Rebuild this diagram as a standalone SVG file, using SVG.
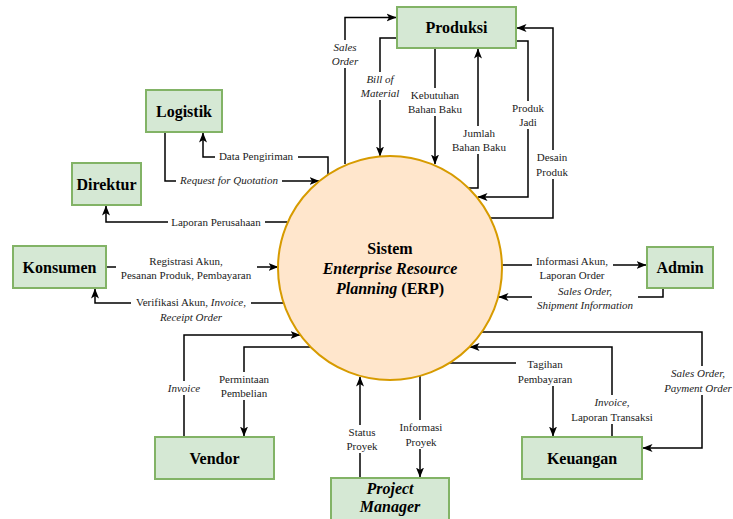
<svg xmlns="http://www.w3.org/2000/svg" width="733" height="519" viewBox="0 0 733 519">
<style>
.node{fill:#d5e8d4;stroke:#82b366;stroke-width:2}
.nt{font-family:"Liberation Serif","Times New Roman",serif;font-size:16px;font-weight:bold;text-anchor:middle;fill:#000}
.ct{font-family:"Liberation Serif","Times New Roman",serif;font-size:16px;font-weight:bold;text-anchor:middle;fill:#000}
.e{fill:none;stroke:#000;stroke-width:1.5}
.ea{fill:none;stroke:#000;stroke-width:1.5;marker-end:url(#arr)}
.lb{fill:#fff;stroke:none}
.lt{font-family:"Liberation Serif","Times New Roman",serif;font-size:11px;text-anchor:middle;fill:#222}
.it{font-style:italic}
</style>
<defs>
<marker id="arr" markerUnits="userSpaceOnUse" markerWidth="10" markerHeight="10" viewBox="0 0 10 10" refX="9.5" refY="5" orient="auto">
<path d="M0,1 L10,5 L0,9 L2.5,5 z" fill="#000"/>
</marker>
</defs>

<g id="connectors">
<path class="ea" d="M345,164 V17.5 H396"/>
<path class="ea" d="M397,38 H380 V156"/>
<path class="ea" d="M435,48 V164"/>
<path class="ea" d="M469,188 H478 V49"/>
<path class="ea" d="M516,41 H528 V197 H478"/>
<path class="ea" d="M490,218 H553 V28 H517"/>
<path class="ea" d="M328,175 V157 H203 V133"/>
<path class="ea" d="M165,132 V181 H319"/>
<path class="ea" d="M287,222 H106 V206"/>
<path class="ea" d="M106,267 H278"/>
<path class="ea" d="M284,303 H95 V289"/>
<path class="ea" d="M502,265 H646"/>
<path class="ea" d="M663,288 V297 H499"/>
<path class="ea" d="M184,437 V335 H300"/>
<path class="ea" d="M311,347 H244 V436"/>
<path class="ea" d="M360,478 V377"/>
<path class="ea" d="M420,376 V477"/>
<path class="ea" d="M449,363 H553 V436"/>
<path class="ea" d="M612,437 V347 H470"/>
<path class="ea" d="M482,332 H702 V448 H643"/>

<g id="labels">
<rect class="lb" x="330" y="40" width="30" height="28"/>
<text class="lt it" x="345" y="51">Sales</text>
<text class="lt it" x="345" y="65">Order</text>

<rect class="lb" x="357" y="72" width="44" height="28"/>
<text class="lt it" x="380" y="83">Bill of</text>
<text class="lt it" x="380" y="97">Material</text>

<rect class="lb" x="406" y="88" width="60" height="28"/>
<text class="lt" x="435" y="99">Kebutuhan</text>
<text class="lt" x="435" y="113">Bahan Baku</text>

<rect class="lb" x="450" y="126" width="60" height="28"/>
<text class="lt" x="479" y="137">Jumlah</text>
<text class="lt" x="479" y="151">Bahan Baku</text>

<rect class="lb" x="511" y="101" width="35" height="28"/>
<text class="lt" x="528" y="112">Produk</text>
<text class="lt" x="528" y="126">Jadi</text>

<rect class="lb" x="534" y="150" width="36" height="29"/>
<text class="lt" x="552" y="161">Desain</text>
<text class="lt" x="552" y="176">Produk</text>

<rect class="lb" x="215" y="150" width="83" height="14"/>
<text class="lt" x="256" y="160">Data Pengiriman</text>

<rect class="lb" x="176" y="174" width="106" height="14"/>
<text class="lt it" x="229" y="184">Request for Quotation</text>

<rect class="lb" x="168" y="215" width="97" height="14"/>
<text class="lt" x="216" y="226">Laporan Perusahaan</text>

<rect class="lb" x="116" y="254" width="141" height="28"/>
<text class="lt" x="186" y="265">Registrasi Akun,</text>
<text class="lt" x="186" y="279">Pesanan Produk, Pembayaran</text>

<rect class="lb" x="131" y="295" width="120" height="29"/>
<text class="lt" x="191" y="306">Verifikasi Akun, <tspan class="it">Invoice</tspan>,</text>
<text class="lt it" x="191" y="321">Receipt Order</text>

<rect class="lb" x="532" y="254" width="81" height="28"/>
<text class="lt" x="572" y="265">Informasi Akun,</text>
<text class="lt" x="572" y="279">Laporan Order</text>

<rect class="lb" x="532" y="284" width="106" height="28"/>
<text class="lt it" x="585" y="295">Sales Order,</text>
<text class="lt it" x="585" y="309">Shipment Information</text>

<rect class="lb" x="166" y="381" width="37" height="14"/>
<text class="lt it" x="184" y="392">Invoice</text>

<rect class="lb" x="216" y="372" width="56" height="28"/>
<text class="lt" x="244" y="383">Permintaan</text>
<text class="lt" x="244" y="397">Pembelian</text>

<rect class="lb" x="344" y="425" width="37" height="28"/>
<text class="lt" x="362" y="436">Status</text>
<text class="lt" x="362" y="450">Proyek</text>

<rect class="lb" x="397" y="420" width="49" height="29"/>
<text class="lt" x="421" y="431">Informasi</text>
<text class="lt" x="421" y="446">Proyek</text>

<rect class="lb" x="516" y="357" width="59" height="29"/>
<text class="lt" x="545" y="368">Tagihan</text>
<text class="lt" x="545" y="383">Pembayaran</text>

<rect class="lb" x="568" y="395" width="88" height="29"/>
<text class="lt it" x="612" y="406">Invoice,</text>
<text class="lt" x="612" y="421">Laporan Transaksi</text>

<rect class="lb" x="660" y="366" width="73" height="29"/>
<text class="lt it" x="698" y="377">Sales Order,</text>
<text class="lt it" x="698" y="392">Payment Order</text>
</g>
</g>

<g id="erp">
<circle cx="390" cy="268" r="112" fill="#ffe6cc" stroke="#d79b00" stroke-width="2"/>
<text class="ct" x="390" y="254">Sistem</text>
<text class="ct" x="390" y="274" font-style="italic">Enterprise Resource</text>
<text class="ct" x="390" y="294"><tspan font-style="italic">Planning</tspan> (ERP)</text>
</g>

<g id="produksi"><rect class="node" x="397" y="7" width="119" height="41"/><text class="nt" x="456.5" y="33">Produksi</text></g>
<g id="logistik"><rect class="node" x="146" y="90" width="76" height="42"/><text class="nt" x="184" y="116.5">Logistik</text></g>
<g id="direktur"><rect class="node" x="72" y="163" width="69" height="42"/><text class="nt" x="106.5" y="189.5">Direktur</text></g>
<g id="konsumen"><rect class="node" x="13" y="246" width="93" height="42"/><text class="nt" x="59.5" y="272.5">Konsumen</text></g>
<g id="admin"><rect class="node" x="647" y="247" width="66" height="41"/><text class="nt" x="680" y="273">Admin</text></g>
<g id="vendor"><rect class="node" x="155" y="437" width="119" height="42"/><text class="nt" x="214.5" y="463.5">Vendor</text></g>
<g id="keuangan"><rect class="node" x="522" y="437" width="120" height="42"/><text class="nt" x="582" y="463.5">Keuangan</text></g>
<g id="project-manager"><rect class="node" x="331" y="478" width="118" height="46"/><text class="nt" x="390" y="494" font-style="italic">Project</text><text class="nt" x="390" y="512" font-style="italic">Manager</text></g>
</svg>
